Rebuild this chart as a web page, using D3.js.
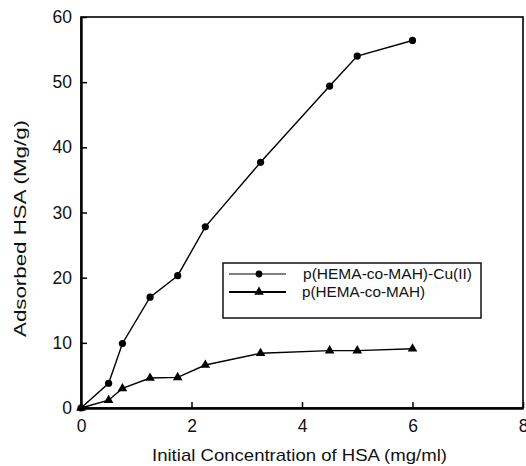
<!DOCTYPE html>
<html>
<head>
<meta charset="utf-8">
<script src="https://cdn.jsdelivr.net/npm/d3@7"></script>
<style>
    body { margin: 0; background: #fff; }
    svg text { font-family: "Liberation Sans", Arial, sans-serif; fill: #111; }
</style>
</head>
<body>
<svg id="chart" width="526" height="466"></svg>
<script>
// concentration of HSA (mg/ml)
const concentration = [0, 0.5, 0.75, 1.25, 1.75, 2.25, 3.25, 4.5, 5, 6]
// adsorbed HSA, Cu(II) loaded beads
const adsorbedCu = [0, 3.8, 9.9, 17.0, 20.3, 27.8, 37.7, 49.4, 54.0, 56.4]
// adsorbed HSA, plain beads
const adsorbedPlain = [0, 1.2, 3.0, 4.6, 4.7, 6.6, 8.4, 8.8, 8.8, 9.1]
const xTicks = [0, 2, 4, 6, 8]
const yTicks = [0, 10, 20, 30, 40, 50, 60]
const seriesNames = ["p(HEMA-co-MAH)-Cu(II)", "p(HEMA-co-MAH)"]

const svg = d3.select("#chart")
const plotLeft = 81, plotRight = 523, plotTop = 17, plotBottom = 408

const x = d3.scaleLinear().domain([0, 8]).range([plotLeft, plotRight])
const y = d3.scaleLinear().domain([0, 60]).range([plotBottom, plotTop])

/* frame */
svg.append("rect")
    .attr("x", plotLeft).attr("y", plotTop)
    .attr("width", plotRight - plotLeft).attr("height", plotBottom - plotTop)
    .attr("fill", "none").attr("stroke", "#000").attr("stroke-width", 1.6)

/* axes with inward ticks */
const xAxis = svg.append("g")
    .attr("transform", `translate(0,${plotBottom})`)
    .call(d3.axisBottom(x).tickValues(xTicks).tickSizeInner(-6).tickSizeOuter(0).tickPadding(12))
const yAxis = svg.append("g")
    .attr("transform", `translate(${plotLeft},0)`)
    .call(d3.axisLeft(y).tickValues(yTicks).tickSizeInner(-6).tickSizeOuter(0).tickPadding(9))

for (const ax of [xAxis, yAxis]) {
    ax.select(".domain").attr("stroke-width", 2.4)
    ax.selectAll(".tick line").attr("stroke-width", 1.5)
    ax.selectAll(".tick text")
        .attr("font-size", 17.5)
        .attr("fill", "#111")
        .attr("font-family", "'Liberation Sans', Arial, sans-serif")
}

/* axis titles, stretched a little like the scanned original */
svg.append("text")
    .attr("x", 152).attr("y", 461)
    .attr("font-size", 17)
    .attr("textLength", 295).attr("lengthAdjust", "spacingAndGlyphs")
    .text("Initial Concentration of HSA (mg/ml)")

svg.append("text")
    .attr("transform", "translate(26,337) rotate(-90)")
    .attr("font-size", 16.5)
    .attr("textLength", 217).attr("lengthAdjust", "spacingAndGlyphs")
    .text("Adsorbed HSA (Mg/g)")

/* series */
const line = d3.line().x(d => x(d[0])).y(d => y(d[1]))
const circlePts = concentration.map((c, i) => [c, adsorbedCu[i]])
const trianglePts = concentration.map((c, i) => [c, adsorbedPlain[i]])

svg.append("path").datum(circlePts)
    .attr("d", line).attr("fill", "none").attr("stroke", "#000").attr("stroke-width", 1.4)
svg.append("path").datum(trianglePts)
    .attr("d", line).attr("fill", "none").attr("stroke", "#000").attr("stroke-width", 1.4)

svg.selectAll(".dot").data(circlePts).join("circle")
    .attr("class", "dot")
    .attr("cx", d => x(d[0])).attr("cy", d => y(d[1]))
    .attr("r", 3.6).attr("fill", "#000")

const tri = d3.symbol().type(d3.symbolTriangle).size(40)
svg.selectAll(".tri").data(trianglePts).join("path")
    .attr("class", "tri")
    .attr("d", tri)
    .attr("transform", d => `translate(${x(d[0])},${y(d[1])})`)
    .attr("fill", "#000")

/* legend */
const legend = svg.append("g").attr("transform", "translate(223,263)")
legend.append("rect")
    .attr("width", 258).attr("height", 55)
    .attr("fill", "#fff").attr("stroke", "#000").attr("stroke-width", 1.4)

const rows = [
    { name: seriesNames[0], y: 11, kind: "circle", len: 169 },
    { name: seriesNames[1], y: 29, kind: "triangle", len: 123 }
]
rows.forEach(r => {
    legend.append("line")
        .attr("x1", 6).attr("x2", 63).attr("y1", r.y).attr("y2", r.y)
        .attr("stroke", "#000").attr("stroke-width", r.kind === "circle" ? 1.2 : 1.8)
    if (r.kind === "circle") {
        legend.append("circle").attr("cx", 36).attr("cy", r.y).attr("r", 3.4).attr("fill", "#000")
    } else {
        legend.append("path").attr("d", tri).attr("transform", `translate(36,${r.y})`).attr("fill", "#000")
    }
    legend.append("text")
        .attr("x", r.kind === "circle" ? 80 : 79).attr("y", r.y + 5)
        .attr("font-size", 14.5)
        .attr("textLength", r.len).attr("lengthAdjust", "spacingAndGlyphs")
        .text(r.name)
})
</script>
</body>
</html>
